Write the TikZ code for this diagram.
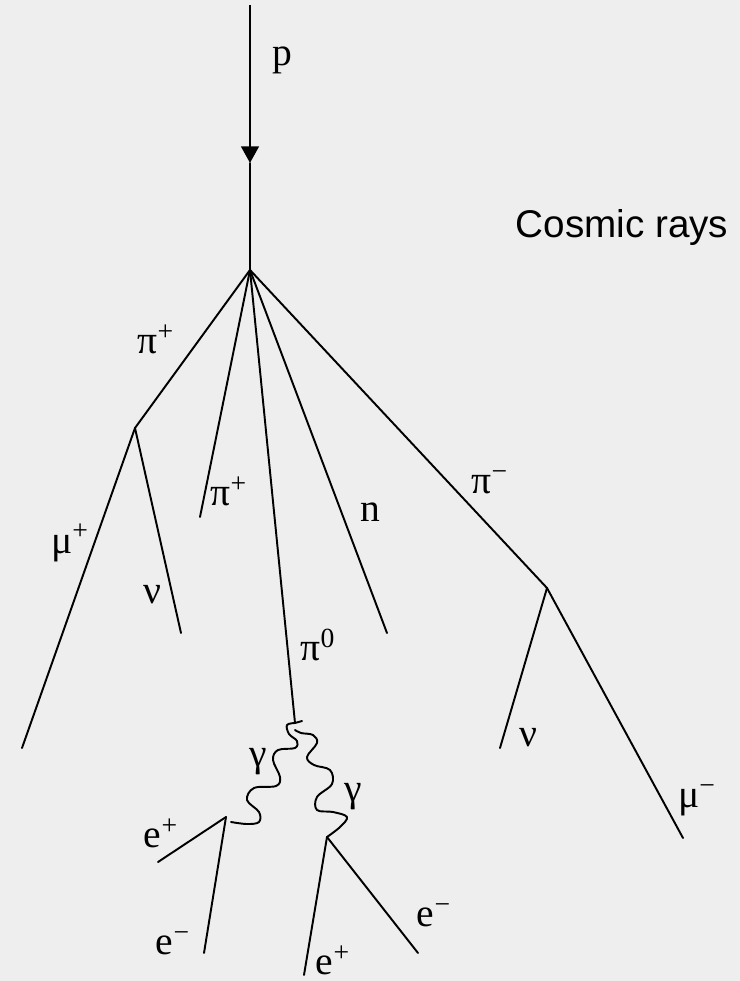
\documentclass[tikz,border=0pt]{standalone}
\usepackage{fontspec}
\setmainfont{Liberation Serif}
\setsansfont{Liberation Sans}
\usepackage{xcolor}
\usetikzlibrary{arrows.meta}

\definecolor{bggray}{HTML}{EEEEEE}

\begin{document}
\begin{tikzpicture}[
  x=0.02cm, y=-0.02cm,
  track/.style={line width=1.1pt, line cap=round},
  beam/.style={line width=1.7pt, -{Triangle[length=9.5pt,width=10pt]}},
  photon/.style={line width=1.1pt, line cap=round, line join=round},
  lbl/.style={inner sep=0pt, font=\fontsize{22.5}{26}\selectfont}
]
  % background and page size
  \fill[bggray] (0,0) rectangle (740,981);
  \useasboundingbox (0,0) rectangle (740,981);

  % vertices and ends
  \coordinate (top)  at (250,5);
  \coordinate (tip)  at (250,163);
  \coordinate (v0)   at (250,270);
  \coordinate (v1)   at (135,428);
  \coordinate (v2)   at (547,588);
  \coordinate (pip)  at (200,517);
  \coordinate (pz)   at (295,723);
  \coordinate (nend) at (387,633);
  \coordinate (mup)  at (22,748);
  \coordinate (nul)  at (181,633);
  \coordinate (nur)  at (500,748);
  \coordinate (mum)  at (683,838);
  \coordinate (ea)   at (226,817);
  \coordinate (eb)   at (327,837);
  \coordinate (ea1)  at (158,862);
  \coordinate (ea2)  at (204,953);
  \coordinate (eb1)  at (304,975);
  \coordinate (eb2)  at (418,953);

  % labels
  \node[lbl] (lp)    at (282,60)  {p};
  \node[lbl, font=\sffamily\fontsize{22}{26}\selectfont] (title) at (622,228) {Cosmic rays};
  \node[lbl] (lpi1)  at (156,339) {π\textsuperscript{+}};
  \node[lbl] (lpi2)  at (229,491) {π\textsuperscript{+}};
  \node[lbl] (ln)    at (370,512) {n};
  \node[lbl] (lpim)  at (490,482) {π\textsuperscript{−}};
  \node[lbl] (lmup)  at (70,543)  {μ\textsuperscript{+}};
  \node[lbl] (lnul)  at (152,595) {ν};
  \node[lbl] (lpiz)  at (318,645) {π\textsuperscript{0}};
  \node[lbl] (lnur)  at (528,738) {ν};
  \node[lbl] (lmum)  at (697,800) {μ\textsuperscript{−}};
  \node[lbl] (lga)   at (258,762) {γ};
  \node[lbl] (lgb)   at (353,797) {γ};
  \node[lbl] (lea1)  at (161,833) {e\textsuperscript{+}};
  \node[lbl] (lea2)  at (173,943) {e\textsuperscript{−}};
  \node[lbl] (leb1)  at (333,960) {e\textsuperscript{+}};
  \node[lbl] (leb2)  at (434,915) {e\textsuperscript{−}};

  % primary
  \draw[beam]  (top) -- (tip);
  \draw[track] (tip) -- (v0);

  % first interaction
  \draw[track] (v0) -- (v1);
  \draw[track] (v0) -- (pip);
  \draw[track] (v0) -- (pz);
  \draw[track] (v0) -- (nend);
  \draw[track] (v0) -- (v2);

  % pion decays
  \draw[track] (v1) -- (mup);
  \draw[track] (v1) -- (nul);
  \draw[track] (v2) -- (nur);
  \draw[track] (v2) -- (mum);

  % photons (hand drawn wiggles)
  \draw[photon] plot[smooth, tension=0.6] coordinates {(pz) (287,725) (289,734) (297,741)
    (295,748) (278,750) (273,760) (280,777) (276,786) (254,788) (247,800)
    (259,812) (259,822) (247,824) (231,822)};
  \draw[photon] (pz) -- (302,721);
  \draw[photon] plot[smooth, tension=0.6] coordinates {(295,730) (301,733) (313,735)
    (317,743) (307,757) (314,765) (330,770) (332,784) (317,797) (317,810)
    (333,812) (347,817) (340,827) (eb)};

  % pairs
  \draw[track] (ea) -- (ea1);
  \draw[track] (ea) -- (ea2);
  \draw[track] (eb) -- (eb1);
  \draw[track] (eb) -- (eb2);
\end{tikzpicture}
\end{document}
